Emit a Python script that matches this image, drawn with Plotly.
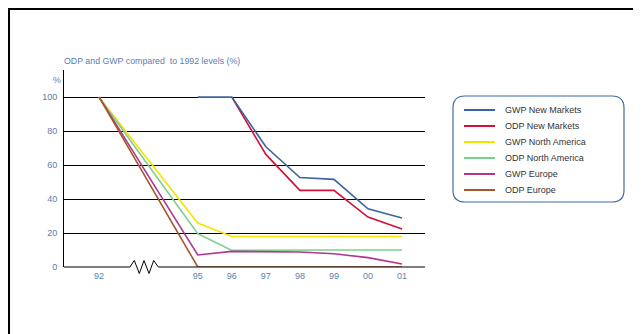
import plotly.graph_objects as go

# ---------------- data ----------------
year_labels = ['92', '95', '96', '97', '98', '99', '00', '01']
x_slots = [0.1, 3, 4, 5, 6, 7, 8, 9]   # slot of each year on the broken axis

series_names = ['GWP New Markets', 'ODP New Markets', 'GWP North America',
                'ODP North America', 'GWP Europe', 'ODP Europe']
gwp_new_markets = [None, 100, 100, 70.8, 52.7, 51.6, 34.3, 28.8]
odp_new_markets = [None, None, 100, 66.3, 45.1, 45.1, 29.4, 22.4]
gwp_north_america = [100, 25.9, 18.0, 18.0, 18.0, 18.0, 18.0, 18.0]
odp_north_america = [100, 19.6, 9.8, 10.0, 10.0, 10.0, 10.0, 10.0]
gwp_europe = [100, 7.1, 9.2, 9.2, 8.8, 7.8, 5.5, 1.8]
odp_europe = [100, 0, 0, 0, 0, 0, 0, 0]
series_values = [gwp_new_markets, odp_new_markets, gwp_north_america,
                 odp_north_america, gwp_europe, odp_europe]
colors = ['#3d63a0', '#d4103a', '#f7e300', '#7dcf8c', '#b0378f', '#a5562c']

y_ticks = [0, 20, 40, 60, 80, 100]

# ---------------- layout geometry (screen pixels; page has 8px body margin) ----------------
O = 8
W, H = 641 - O, 334 - O
L, T, PW, PH = 64, 70, 361, 197          # plot area in screen pixels
ML, MT = L - O, T - O
MR = W - ML - PW
MB = H - MT - PH


def px(x):
    return (x - L) / PW


def py(y):
    return (T + PH - y) / PH


BLUE_TXT = '#5a7db6'
FONT = 'Liberation Sans, Arial, Helvetica, sans-serif'

fig = go.Figure()
# draw order: ODP New Markets under GWP New Markets
order = [1, 0, 2, 3, 4, 5]
for i in order:
    fig.add_trace(go.Scatter(
        x=x_slots, y=series_values[i], name=series_names[i], mode='lines',
        line=dict(color=colors[i], width=1.6), showlegend=False,
        connectgaps=False, cliponaxis=False))

shapes = []
# frame lines (top and left)
shapes.append(dict(type='line', xref='paper', yref='paper', x0=px(8), x1=px(641),
                   y0=py(9), y1=py(9), line=dict(color='black', width=2)))
shapes.append(dict(type='line', xref='paper', yref='paper', x0=px(9), x1=px(9),
                   y0=py(8), y1=py(334), line=dict(color='black', width=2)))
# x axis with break
zig = [(64, 267), (130, 267), (134.3, 260.5), (139.3, 273.5), (144, 260.5),
       (149, 273.5), (153.7, 260.5), (158.3, 267), (425, 267)]
path = 'M ' + ' L '.join(f'{px(a):.5f},{py(b):.5f}' for a, b in zig)
shapes.append(dict(type='path', xref='paper', yref='paper', path=path,
                   line=dict(color='black', width=1)))

# legend box with rounded corners
x0, x1, y0, y1, r = 453, 624, 96, 202, 12
pts = (f'M {px(x0 + r)},{py(y0)} L {px(x1 - r)},{py(y0)} '
       f'Q {px(x1)},{py(y0)} {px(x1)},{py(y0 + r)} '
       f'L {px(x1)},{py(y1 - r)} Q {px(x1)},{py(y1)} {px(x1 - r)},{py(y1)} '
       f'L {px(x0 + r)},{py(y1)} Q {px(x0)},{py(y1)} {px(x0)},{py(y1 - r)} '
       f'L {px(x0)},{py(y0 + r)} Q {px(x0)},{py(y0)} {px(x0 + r)},{py(y0)} Z')
shapes.append(dict(type='path', xref='paper', yref='paper', path=pts,
                   line=dict(color='#3f6aa8', width=1.2), fillcolor='rgba(0,0,0,0)'))

annotations = []
for k, name in enumerate(series_names):
    yy = 110 + 16 * k
    shapes.append(dict(type='line', xref='paper', yref='paper', x0=px(464), x1=px(495),
                       y0=py(yy), y1=py(yy), line=dict(color=colors[k], width=2)))
    annotations.append(dict(xref='paper', yref='paper', x=px(503), y=py(yy),
                            text=name, showarrow=False, xanchor='left', yanchor='middle',
                            font=dict(family=FONT, size=9, color='#333333')))

annotations.append(dict(xref='paper', yref='paper', x=px(62), y=py(61),
                        text='ODP and GWP compared\u00a0 to 1992 levels (%)', showarrow=False,
                        xanchor='left', yanchor='middle',
                        font=dict(family=FONT, size=8.8, color=BLUE_TXT)))
annotations.append(dict(xref='paper', yref='paper', x=px(57), y=py(80),
                        text='%', showarrow=False, xanchor='center', yanchor='middle',
                        font=dict(family=FONT, size=8.8, color=BLUE_TXT)))

fig.update_layout(
    width=W, height=H, margin=dict(l=ML, r=MR, t=MT, b=MB, pad=0),
    paper_bgcolor='white', plot_bgcolor='white',
    shapes=shapes, annotations=annotations, showlegend=False,
    xaxis=dict(range=[-0.93, 9.675], tickvals=x_slots, ticktext=year_labels,
               showgrid=False, zeroline=False, showline=False, ticks='',
               ticklabelstandoff=2,
               tickfont=dict(family=FONT, size=9, color=BLUE_TXT), fixedrange=True),
    yaxis=dict(range=[0, 116], tickvals=y_ticks, showgrid=True, gridcolor='black',
               gridwidth=1, zeroline=False, showline=True, linecolor='black', linewidth=1,
               ticks='', ticklabelstandoff=4,
               tickfont=dict(family=FONT, size=9, color=BLUE_TXT), fixedrange=True),
)
fig.write_html('out.html')
